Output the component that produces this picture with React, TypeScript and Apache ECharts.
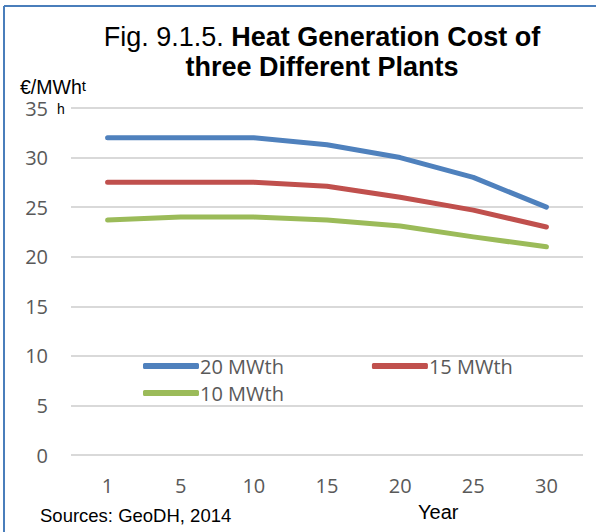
import React, { useEffect, useRef } from "react";
import * as echarts from "echarts";

const years = ["1", "5", "10", "15", "20", "25", "30"];
const mw20 = [32.0, 32.0, 32.0, 31.3, 30.0, 28.0, 25.0];
const mw15 = [27.5, 27.5, 27.5, 27.1, 26.0, 24.7, 23.0];
const mw10 = [23.7, 24.0, 24.0, 23.7, 23.1, 22.0, 21.0];
const seriesNames = ["20 MWth", "15 MWth", "10 MWth"];
const colors = ["#4f81bd", "#c0504d", "#9bbb59"];

export default function App() {
  const ref = useRef<HTMLDivElement>(null);
  useEffect(() => {
    document.body.style.margin = "0";
    const chart = echarts.init(ref.current!, null, { renderer: "svg" });
    const font = "Open Sans";
    const mk = (name: string, data: number[], color: string) => ({
      name,
      type: "line",
      data,
      symbol: "none",
      smooth: false,
      lineStyle: { color, width: 5, cap: "round", join: "round" },
      itemStyle: { color },
    });
    chart.setOption({
      animation: false,
      backgroundColor: "#ffffff",
      grid: { left: 71, right: 13, top: 108, bottom: 77 },
      xAxis: {
        type: "category",
        data: years,
        boundaryGap: true,
        axisLine: { show: false },
        axisTick: { show: false },
        axisLabel: { color: "#595959", fontFamily: font, fontSize: 20, margin: 20 },
      },
      yAxis: {
        type: "value",
        min: 0,
        max: 35,
        interval: 5,
        axisLine: { show: false },
        axisTick: { show: false },
        splitLine: { lineStyle: { color: "#d9d9d9", width: 2 } },
        axisLabel: { color: "#595959", fontFamily: font, fontSize: 20, lineHeight: 16, margin: 23 },
      },
      legend: [
        {
          data: [seriesNames[0], seriesNames[1]],
          left: 138,
          top: 351,
          itemWidth: 56,
          itemHeight: 6,
          itemGap: 88,
          icon: "roundRect",
          textStyle: { color: "#595959", fontFamily: font, fontSize: 20, padding: [0, 0, 0, -4] },
        },
        {
          data: [seriesNames[2]],
          left: 138,
          top: 378,
          itemWidth: 56,
          itemHeight: 6,
          icon: "roundRect",
          textStyle: { color: "#595959", fontFamily: font, fontSize: 20, padding: [0, 0, 0, -4] },
        },
      ],
      series: [
        mk(seriesNames[0], mw20, colors[0]),
        mk(seriesNames[1], mw15, colors[1]),
        mk(seriesNames[2], mw10, colors[2]),
      ],
      graphic: [
        { type: "line", shape: { x1: 4, y1: 6, x2: 596, y2: 6 }, style: { stroke: "#4a7ebb", lineWidth: 2 } },
        { type: "line", shape: { x1: 4, y1: 6, x2: 4, y2: 532 }, style: { stroke: "#4a7ebb", lineWidth: 2 } },
        {
          type: "text",
          x: 322,
          y: 22,
          style: {
            text: "{n|Fig. 9.1.5. }{b|Heat Generation Cost of}\n{b|three Different Plants}",
            align: "center",
            verticalAlign: "top",
            fill: "#000",
            rich: {
              n: { fontFamily: "Liberation Sans", fontSize: 27, lineHeight: 30, fill: "#000" },
              b: { fontFamily: "Liberation Sans", fontSize: 27, fontWeight: "bold", lineHeight: 30, fill: "#000" },
            },
          },
        },
        {
          type: "text",
          x: 20,
          y: 80,
          style: {
            text: "{a|€/MWh}{t|t}",
            verticalAlign: "top",
            rich: {
              a: { fontFamily: "Liberation Sans", fontSize: 19.5, lineHeight: 13, fill: "#000" },
              t: { fontFamily: "Liberation Sans", fontSize: 15, lineHeight: 13, fill: "#000", verticalAlign: "bottom" },
            },
          },
        },
        {
          type: "text",
          x: 57,
          y: 103,
          style: { text: "h", fontFamily: "Liberation Sans", fontSize: 14, lineHeight: 12, fill: "#000", verticalAlign: "top" },
        },
        {
          type: "text",
          x: 40,
          y: 506,
          style: { text: "Sources: GeoDH, 2014", fontFamily: "Liberation Sans", fontSize: 18.5, fill: "#000", verticalAlign: "top" },
        },
        {
          type: "text",
          x: 418,
          y: 502,
          style: { text: "Year", fontFamily: "Liberation Sans", fontSize: 20, fill: "#000", verticalAlign: "top" },
        },
      ],
    });
    return () => chart.dispose();
  }, []);
  return <div ref={ref} style={{ width: 596, height: 532 }} />;
}
